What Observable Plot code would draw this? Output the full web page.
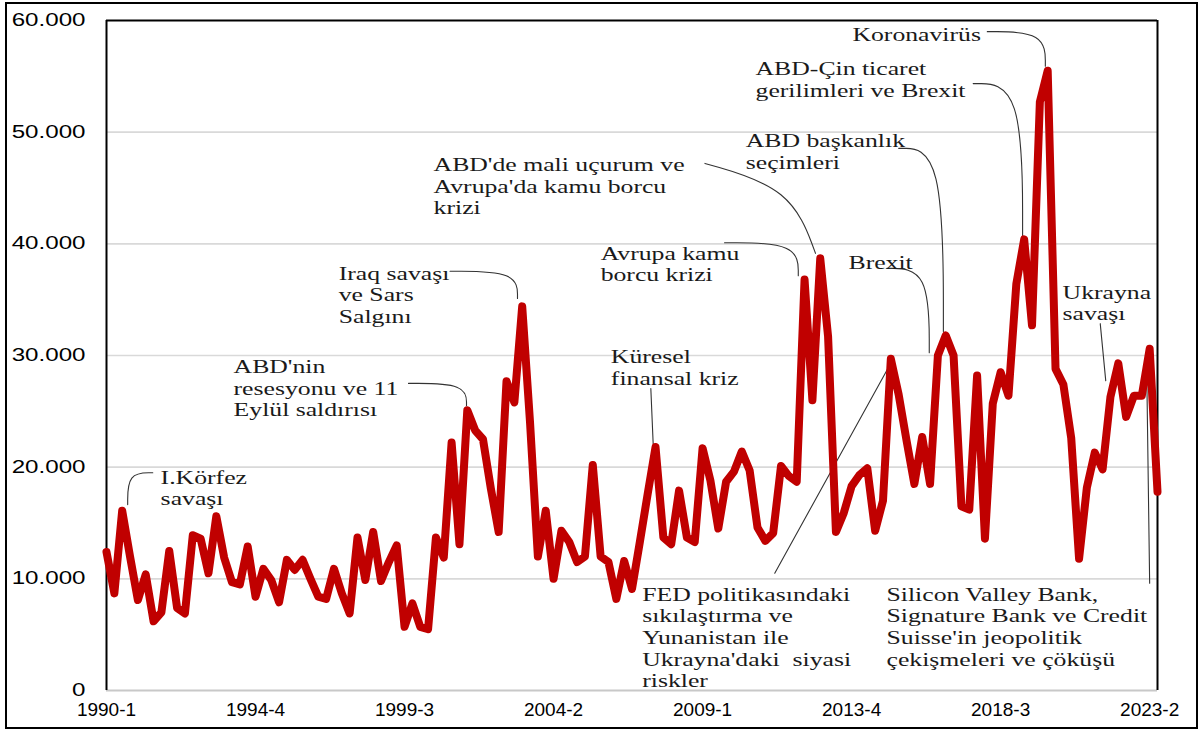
<!DOCTYPE html>
<html>
<head>
<meta charset="utf-8">
<script src="https://cdn.jsdelivr.net/npm/d3@7"></script>
<script src="https://cdn.jsdelivr.net/npm/@observablehq/plot@0.6"></script>
<style>
  html, body { margin: 0; padding: 0; background: #fff; }
  #wrap { position: relative; width: 1203px; height: 731px; }
  #border { position: absolute; left: 5px; top: 2px; width: 1189px; height: 723px; border: 2px solid #000; pointer-events: none; }
</style>
</head>
<body>
<div id="wrap"><div id="chart"></div><div id="border"></div></div>
<script>
// ---- data ----
const startYear = 1990;
const values = [
  12400, 8700, 16100, 12000, 8100, 10400, 6200, 7000, 12500, 7400,
  6900, 13900, 13600, 10500, 15600, 11900, 9700, 9500, 12900, 8400,
  10900, 9900, 7900, 11700, 10800, 11700, 10000, 8400, 8200, 10900,
  8700, 6900, 13700, 9900, 14200, 9800, 11500, 13000, 5700, 7800,
  5700, 5500, 13700, 11900, 22200, 13100, 25100, 23300, 22500, 18100,
  14200, 27700, 25800, 34400, 24000, 12000, 16100, 10000, 14300, 13300,
  11500, 12000, 20200, 12000, 11500, 8200, 11600, 9100, 13300, 17600,
  21800, 13700, 13100, 17900, 13700, 13300, 21700, 18800, 14500, 18700,
  19600, 21400, 19700, 14600, 13400, 14100, 20100, 19200, 18700, 36800,
  26000, 38700, 31700, 14200, 15900, 18300, 19300, 19900, 14300, 17000,
  29700, 26500, 22400, 18500, 22700, 18500, 30000, 31800, 30000, 16500,
  16200, 28200, 13600, 25700, 28500, 26400, 36400, 40400, 32700, 52700,
  55500, 28800, 27400, 22600, 11800, 18200, 21300, 19800, 26300, 29300,
  24500, 26400, 26400, 30600, 17800
];
const quarters = values.map((_, i) => `${startYear + Math.floor(i / 4)}-${(i % 4) + 1}`);
const xTickLabels = ["1990-1", "1994-4", "1999-3", "2004-2", "2009-1", "2013-4", "2018-3", "2023-2"];
const yTicks = [0, 10000, 20000, 30000, 40000, 50000, 60000];

// annotations: text anchor (quarter index, value) and leader from s -> e (optional bend point c)
const annotations = [
  {id: 1, label: "I.Körfez\nsavaşı", ti: 6.9, tv: 19900, si: 5.9, sv: 19500, ei: 2.7, ev: 16650, kind: "elbow"},
  {id: 2, label: "ABD'nin\nresesyonu ve 11\nEylül saldırısı", ti: 16.2, tv: 29800, si: 38.5, sv: 27500, ei: 45.9, ev: 25500, kind: "elbow"},
  {id: 3, label: "Iraq savaşı\nve Sars\nSalgını", ti: 29.6, tv: 38150, si: 43.8, sv: 37550, ei: 52.4, ev: 35100, kind: "elbow"},
  {id: 4, label: "ABD'de mali uçurum ve\nAvrupa'da kamu borcu\nkrizi", ti: 41.7, tv: 47900, si: 76.3, sv: 47200, ei: 90.4, ev: 39150, kind: "elbow", ci: 87.3, cv: 45000},
  {id: 5, label: "Avrupa kamu\nborcu krizi", ti: 63.0, tv: 39950, si: 78.8, sv: 40100, ei: 88.2, ev: 37150, kind: "elbow"},
  {id: 6, label: "Küresel\nfinansal kriz", ti: 64.3, tv: 30700, si: 69.4, sv: 27050, ei: 69.7, ev: 22100, kind: "straight"},
  {id: 7, label: "FED politikasındaki\nsıkılaştırma ve\nYunanistan ile\nUkrayna'daki  siyasi\nriskler", ti: 68.3, tv: 9400, si: 85.2, sv: 10500, ei: 100.1, ev: 29450, kind: "straight"},
  {id: 8, label: "Brexit", ti: 94.6, tv: 39150, si: 99.5, sv: 37800, ei: 104.9, ev: 30250, kind: "elbow"},
  {id: 9, label: "ABD başkanlık\nseçimleri", ti: 81.5, tv: 50050, si: 101.0, sv: 48550, ei: 106.7, ev: 32150, kind: "elbow"},
  {id: 10, label: "ABD-Çin ticaret\ngerilimleri ve Brexit", ti: 82.75, tv: 56500, si: 110.5, sv: 54350, ei: 116.8, ev: 40750, kind: "elbow"},
  {id: 11, label: "Koronavirüs", ti: 95.1, tv: 59550, si: 112.3, sv: 59000, ei: 119.7, ev: 55900, kind: "elbow"},
  {id: 12, label: "Ukrayna\nsavaşı", ti: 121.9, tv: 36450, si: 126.7, sv: 32850, ei: 127.4, ev: 27750, kind: "straight"},
  {id: 13, label: "Silicon Valley Bank,\nSignature Bank ve Credit\nSuisse'in jeopolitik\nçekişmeleri ve çöküşü", ti: 99.45, tv: 9400, si: 133.0, sv: 9600, ei: 132.6, ev: 30000, kind: "straight"}
];

// ---- derived tables ----
const series = values.map((v, i) => ({i, v}));
const xTicks = xTickLabels.map(l => quarters.indexOf(l));
const leaderPts = annotations.flatMap(a => a.kind === "elbow"
  ? [{id: a.id, i: a.si, v: a.sv},
     {id: a.id, i: a.ci ?? a.ei, v: a.cv ?? a.sv},
     {id: a.id, i: a.ei, v: a.ev}]
  : [{id: a.id, i: a.si, v: a.sv}, {id: a.id, i: a.ei, v: a.ev}]);
const fmt = d => d === 0 ? "0" : d3.format(",")(d).replace(/,/g, ".");

const chart = Plot.plot({
  width: 1203,
  height: 731,
  marginLeft: 106,
  marginRight: 46,
  marginTop: 20,
  marginBottom: 41,
  style: {background: "white", fontFamily: "'Liberation Sans', Arial, sans-serif", color: "#000"},
  x: {domain: [0, values.length - 1], axis: null},
  y: {domain: [0, 60000], axis: null},
  marks: [
    Plot.gridY(yTicks.filter(d => d > 0 && d < 60000), {stroke: "#d9d9d9", strokeOpacity: 1, strokeWidth: 1.6}),
    Plot.ruleY([0], {stroke: "#c8c8c8", strokeWidth: 2}),
    Plot.ruleY([60000], {stroke: "#000", strokeWidth: 2}),
    Plot.ruleX([0, values.length - 1], {stroke: "#000", strokeWidth: 2}),
    Plot.axisY({ticks: yTicks, tickFormat: fmt, tickSize: 0, tickPadding: 21, fontSize: 17.5, label: null, fill: "#000"}),
    Plot.axisX({ticks: xTicks, tickFormat: i => quarters[i], tickSize: 0, tickPadding: 12, fontSize: 19, label: null, fill: "#000"}),
    Plot.line(leaderPts, {x: "i", y: "v", z: "id", curve: "basis", stroke: "#333", strokeWidth: 1.1}),
    Plot.line(series, {x: "i", y: "v", stroke: "#C00000", strokeWidth: 8, strokeLinejoin: "round"}),
    Plot.text(annotations, {x: "ti", y: "tv", text: "label", textAnchor: "start", lineAnchor: "top", lineHeight: 1.2,
      fontSize: 18, fontFamily: "'Liberation Serif', 'Times New Roman', serif", fill: "#1a1a1a"})
  ]
});

// horizontal stretch of text to match the reference's widened glyphs
function stretch(sel, k) {
  d3.select(chart).selectAll(sel).each(function () {
    const t = this.getAttribute("transform");
    if (t) {
      this.setAttribute("transform", t + ` scale(${k},1)`);
    } else {
      const x = +this.getAttribute("x") || 0, y = +this.getAttribute("y") || 0;
      this.removeAttribute("x"); this.removeAttribute("y");
      this.setAttribute("transform", `translate(${x},${y}) scale(${k},1)`);
    }
  });
}
stretch("g[aria-label='text'] > text", 1.43);
stretch("g[aria-label='y-axis tick label'] > text", 1.38);

document.getElementById("chart").appendChild(chart);
</script>
</body>
</html>
